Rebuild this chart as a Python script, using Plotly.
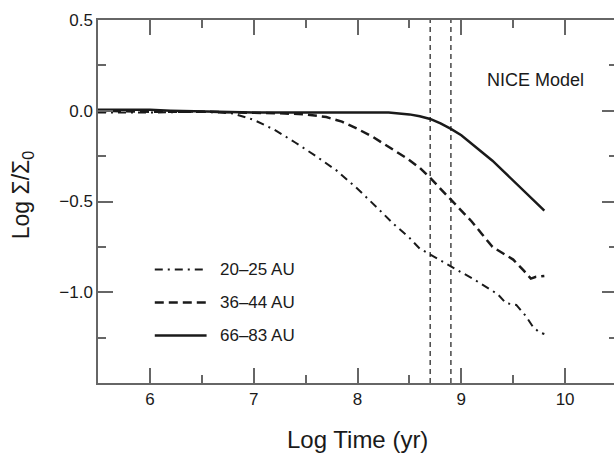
import plotly.graph_objects as go

# Surface density evolution, NICE model
series_names = ["20\u201325 AU", "36\u201344 AU", "66\u201383 AU"]

x_20_25 = [5.5, 6.0, 6.5, 6.8, 7.0, 7.2, 7.4, 7.6, 7.8, 8.0, 8.2, 8.34, 8.5, 8.6,
           8.71, 8.8, 8.9, 9.0, 9.11, 9.24, 9.35, 9.43, 9.53, 9.62, 9.69, 9.75, 9.8]
y_20_25 = [-0.01, -0.01, -0.005, -0.015, -0.05, -0.105, -0.175, -0.25, -0.33, -0.43,
           -0.54, -0.62, -0.7, -0.76, -0.795, -0.825, -0.86, -0.89, -0.925, -0.97,
           -1.01, -1.06, -1.07, -1.13, -1.19, -1.22, -1.23]

x_36_44 = [5.5, 6.0, 6.5, 7.0, 7.3, 7.5, 7.7, 7.85, 8.0, 8.15, 8.3, 8.47, 8.6, 8.71,
           8.8, 8.9, 9.0, 9.1, 9.2, 9.3, 9.4, 9.5, 9.6, 9.67, 9.72, 9.8]
y_36_44 = [0.0, -0.005, -0.005, -0.01, -0.015, -0.02, -0.035, -0.06, -0.1, -0.145,
           -0.2, -0.26, -0.315, -0.375, -0.43, -0.49, -0.55, -0.61, -0.68, -0.75,
           -0.785, -0.82, -0.88, -0.925, -0.915, -0.91]

x_66_83 = [5.5, 5.8, 6.0, 6.2, 6.5, 7.0, 7.5, 8.0, 8.3, 8.4, 8.5, 8.6, 8.7, 8.8,
           8.9, 9.0, 9.1, 9.2, 9.3, 9.4, 9.5, 9.6, 9.7, 9.8]
y_66_83 = [0.005, 0.005, 0.005, 0.0, -0.005, -0.01, -0.01, -0.01, -0.01, -0.015,
           -0.02, -0.03, -0.045, -0.07, -0.1, -0.135, -0.18, -0.225, -0.275, -0.33,
           -0.385, -0.44, -0.5, -0.55]

# epoch of the instability (vertical dashed lines)
instability_x = [8.7, 8.9]

x_ticks = [6, 7, 8, 9, 10]
y_ticks = [-1.0, -0.5, 0.0, 0.5]

line_dashes = ["8px,5px,2px,5px", "9px,5px", "solid"]
line_widths = [2, 2.5, 2.5]
ink = "#1a1a1a"
axis_grey = "#666666"
font_family = "Arial, 'Liberation Sans', sans-serif"

fig = go.Figure()

all_x = [x_20_25, x_36_44, x_66_83]
all_y = [y_20_25, y_36_44, y_66_83]
for name, xs, ys, dash, w in zip(series_names, all_x, all_y, line_dashes, line_widths):
    fig.add_trace(go.Scatter(
        x=xs, y=ys, mode="lines", name=name,
        line=dict(color=ink, width=w, dash=dash),
        showlegend=False,
    ))

for xv in instability_x:
    fig.add_vline(x=xv, line=dict(color=ink, width=1.2, dash="5px,4px"))

# plot area in pixels: x 98..619 (right edge falls just outside the window), y 20..383
px_w, px_h = 521, 363
left, bottom = 98, 383


def px(x):
    return (x - left) / px_w


def py(y):
    return (bottom - y) / px_h


# hand-drawn legend like the original
legend_rows = [269.5, 302.5, 335.5]
for name, row, dash, w in zip(series_names, legend_rows, line_dashes, line_widths):
    fig.add_shape(type="line", xref="paper", yref="paper",
                  x0=px(155), x1=px(207), y0=py(row), y1=py(row),
                  line=dict(color=ink, width=w, dash=dash))
    fig.add_annotation(x=px(218), y=py(row), xref="paper", yref="paper",
                       text=name, showarrow=False, xanchor="left", yanchor="middle",
                       font=dict(size=17, color=ink, family=font_family))

fig.add_annotation(x=px(537.5), y=py(79.5), xref="paper", yref="paper",
                   text="NICE Model", showarrow=False, xanchor="center", yanchor="middle",
                   font=dict(size=18, color=ink, family=font_family))

# axis titles
fig.add_annotation(x=px(358), y=py(440), xref="paper", yref="paper",
                   text="Log Time (yr)", showarrow=False, xanchor="center", yanchor="middle",
                   font=dict(size=24, color=ink, family=font_family))
fig.add_annotation(x=px(22), y=py(195), xref="paper", yref="paper",
                   text="Log \u03a3/\u03a3<sub>0</sub>", showarrow=False, textangle=-90,
                   xanchor="center", yanchor="middle",
                   font=dict(size=23, color=ink, family=font_family))

axis_common = dict(
    showgrid=False, zeroline=False,
    showline=True, linecolor=axis_grey, linewidth=1.5, mirror="ticks",
    ticks="inside", ticklen=15, tickwidth=1.5, tickcolor=axis_grey,
    tickfont=dict(size=17, color=ink, family=font_family),
)

fig.update_xaxes(
    range=[5.5, 10.5],
    tickvals=x_ticks,
    minor=dict(dtick=0.5, tick0=0, ticks="inside", ticklen=8, tickwidth=1.5,
               tickcolor=axis_grey),
    **axis_common,
)
fig.update_yaxes(
    range=[-1.5, 0.5],
    tickvals=y_ticks, tickformat=".1f",
    minor=dict(dtick=0.25, tick0=0, ticks="inside", ticklen=8, tickwidth=1.5,
               tickcolor=axis_grey),
    **axis_common,
)

fig.update_layout(
    width=619, height=454,
    margin=dict(l=98, r=0, t=20, b=71),
    plot_bgcolor="white", paper_bgcolor="white",
    font=dict(family=font_family, color=ink),
)

# drop the default page margin so the figure sits flush in the window
fig.write_html(
    "out.html",
    config={"displayModeBar": False},
    post_script="document.body.style.margin='0';document.body.style.overflow='hidden';",
)
